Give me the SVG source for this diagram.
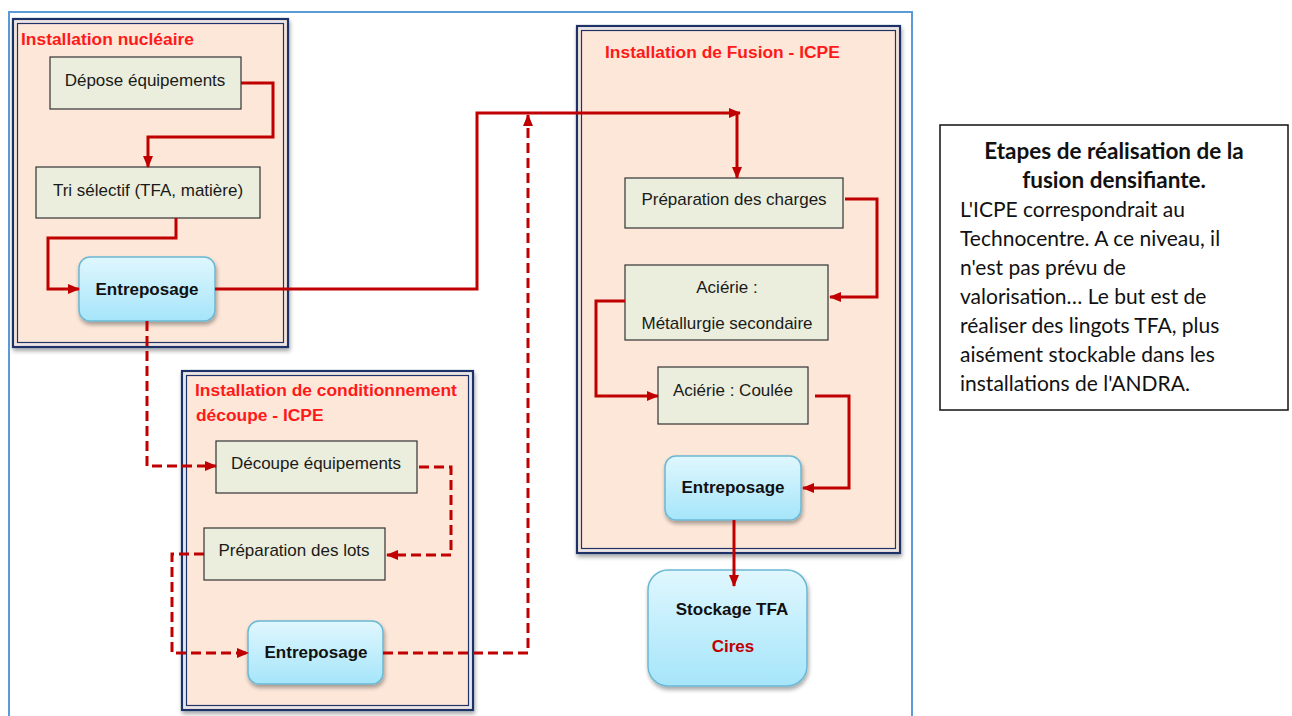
<svg xmlns="http://www.w3.org/2000/svg" width="1292" height="716" viewBox="0 0 1292 716">
<defs>
<linearGradient id="blue" x1="0" y1="0" x2="0" y2="1">
<stop offset="0" stop-color="#e0f7fe"/>
<stop offset="1" stop-color="#a5e5fa"/>
</linearGradient>
<filter id="sh" x="-10%" y="-10%" width="130%" height="130%">
<feGaussianBlur in="SourceAlpha" stdDeviation="2"/>
<feOffset dx="1" dy="3"/>
<feComponentTransfer><feFuncA type="linear" slope="0.35"/></feComponentTransfer>
<feMerge><feMergeNode/><feMergeNode in="SourceGraphic"/></feMerge>
</filter>
<marker id="ah" markerWidth="12" markerHeight="10" refX="11" refY="5" orient="auto" markerUnits="userSpaceOnUse">
<path d="M0,0 L12,5 L0,10 Z" fill="#c00000"/>
</marker>
</defs>
<style>
.frame{fill:none;stroke:#5b9bd5;stroke-width:2}
.cont{fill:#fde7d9;stroke:#1f3368;stroke-width:2.2}
.cgap{fill:none;stroke:#e4e6ef;stroke-width:1.6}
.cin{fill:none;stroke:#1f3368;stroke-width:1.2}
.box{fill:#ebeedc;stroke:#333;stroke-width:1.2}
.ent{fill:url(#blue);stroke:#6bb8d3;stroke-width:1.5}
.t{font-family:"Liberation Sans",Arial,sans-serif;font-size:17px;fill:#1a1a1a;text-anchor:middle}
.tb{font-family:"Liberation Sans",Arial,sans-serif;font-size:17px;font-weight:bold;fill:#111;text-anchor:middle}
.title{font-family:"Liberation Sans",Arial,sans-serif;font-size:17.4px;font-weight:bold;fill:#ff1a1a}
.c{fill:none;stroke:#c00000;stroke-width:3;marker-end:url(#ah)}
.d{stroke-dasharray:10,5}
.note{font-family:Lato,"Liberation Sans",sans-serif;font-size:21px;fill:#111}
.nb{font-size:22.5px;font-weight:bold;text-anchor:middle}
</style>
<rect class="frame" x="9" y="12" width="903" height="720"/>

<g id="installation-nucleaire">
<rect class="cont" x="13" y="19" width="275" height="328" filter="url(#sh)"/>
<rect class="cgap" x="15.5" y="21.5" width="270" height="323"/>
<rect class="cin" x="17.5" y="23.5" width="266" height="319"/>
<text class="title" x="21" y="45">Installation nucléaire</text>
</g>
<g id="installation-conditionnement">
<rect class="cont" x="182" y="371" width="291" height="339" filter="url(#sh)"/>
<rect class="cgap" x="184.5" y="373.5" width="286" height="334"/>
<rect class="cin" x="186.5" y="375.5" width="282" height="330"/>
<text class="title" x="195" y="396">Installation de conditionnement</text>
<text class="title" x="196" y="421">découpe - ICPE</text>
</g>
<g id="installation-fusion">
<rect class="cont" x="577" y="26" width="323" height="527" filter="url(#sh)"/>
<rect class="cgap" x="579.5" y="28.5" width="318" height="522"/>
<rect class="cin" x="581.5" y="30.5" width="314" height="518"/>
<text class="title" x="605" y="58">Installation de Fusion - ICPE</text>
</g>

<g id="depose">
<rect class="box" x="50" y="57" width="191" height="52"/>
<text class="t" x="145" y="86">Dépose équipements</text>
</g>
<g id="tri">
<rect class="box" x="36" y="167" width="224" height="51"/>
<text class="t" x="148" y="196">Tri sélectif (TFA, matière)</text>
</g>
<g id="entreposage1">
<rect class="ent" x="79" y="257" width="136" height="64" rx="11" filter="url(#sh)"/>
<text class="tb" x="147" y="295">Entreposage</text>
</g>
<g id="decoupe">
<rect class="box" x="216" y="441" width="201" height="52"/>
<text class="t" x="316" y="469">Découpe équipements</text>
</g>
<g id="preparation-lots">
<rect class="box" x="204" y="528" width="181" height="52"/>
<text class="t" x="294" y="556">Préparation des lots</text>
</g>
<g id="entreposage2">
<rect class="ent" x="248" y="621" width="135" height="63" rx="11" filter="url(#sh)"/>
<text class="tb" x="316" y="658">Entreposage</text>
</g>
<g id="preparation-charges">
<rect class="box" x="625" y="178" width="218" height="50"/>
<text class="t" x="734" y="205">Préparation des charges</text>
</g>
<g id="acierie-metallurgie">
<rect class="box" x="625" y="265" width="203" height="75"/>
<text class="t" x="727" y="293">Aciérie :</text>
<text class="t" x="727" y="329">Métallurgie secondaire</text>
</g>
<g id="acierie-coulee">
<rect class="box" x="658" y="367" width="150" height="57"/>
<text class="t" x="733" y="396">Aciérie : Coulée</text>
</g>
<g id="entreposage3">
<rect class="ent" x="665" y="456" width="136" height="64" rx="11" filter="url(#sh)"/>
<text class="tb" x="733" y="493">Entreposage</text>
</g>
<g id="stockage">
<rect class="ent" x="648" y="570" width="159" height="116" rx="20" filter="url(#sh)"/>
<text class="tb" x="732" y="615">Stockage TFA</text>
<text class="tb" x="733" y="652" style="fill:#c00000">Cires</text>
</g>

<g id="connectors">
<path class="c" d="M241,83 H273 V137 H148 V167"/>
<path class="c" d="M176,218 V238 H48 V289 H79"/>
<path class="c" d="M215,289 H477 V113 H740"/>
<path class="c" d="M737,113 V178"/>
<path class="c d" d="M147,321 V466 H216"/>
<path class="c d" d="M419,467 H451 V555 H387"/>
<path class="c d" d="M204,554 H172 V653 H248"/>
<path class="c d" d="M383,653 H528 V115"/>
<path class="c" d="M845,199 H877 V297 H830"/>
<path class="c" d="M625,301 H596 V396 H658"/>
<path class="c" d="M815,396 H849 V488 H803"/>
<path class="c" d="M734,520 V586"/>
</g>

<g id="note">
<rect x="940" y="125" width="348" height="285" fill="#fff" stroke="#111" stroke-width="1.5"/>
<text class="note nb" x="1114" y="159">Etapes de réalisation de la</text>
<text class="note nb" x="1114" y="188">fusion densifiante.</text>
<text class="note" x="960" y="217">L'ICPE correspondrait au</text>
<text class="note" x="960" y="246">Technocentre. A ce niveau, il</text>
<text class="note" x="960" y="275">n'est pas prévu de</text>
<text class="note" x="960" y="304">valorisation… Le but est de</text>
<text class="note" x="960" y="333">réaliser des lingots TFA, plus</text>
<text class="note" x="960" y="362">aisément stockable dans les</text>
<text class="note" x="960" y="391">installations de l'ANDRA.</text>
</g>
</svg>
